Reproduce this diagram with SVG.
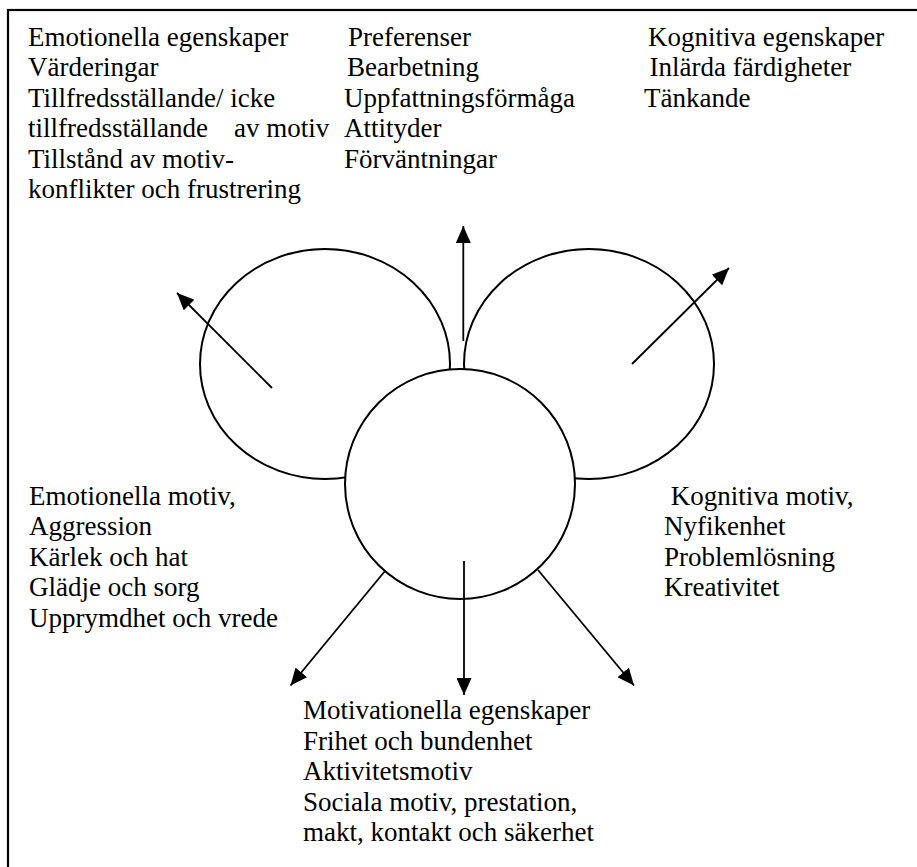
<svg xmlns="http://www.w3.org/2000/svg" width="917" height="867" viewBox="0 0 917 867">
  <style>
    text { font-family: "Liberation Serif", "Times New Roman", serif; font-size: 27px; fill: #000; }
    .shape { fill: #fff; stroke: #000; stroke-width: 2; }
    .arrow { fill: none; stroke: #000; stroke-width: 1.8; marker-end: url(#head); }
    .frame { fill: none; stroke: #000; stroke-width: 2.2; }
  </style>
  <defs>
    <marker id="head" markerUnits="userSpaceOnUse" markerWidth="17" markerHeight="15" viewBox="0 0 17 15" refX="17" refY="7.5" orient="auto">
      <path d="M0,0 L17,7.5 L0,15 z" fill="#000"/>
    </marker>
  </defs>

  <rect class="frame" x="8" y="10" width="930" height="880"/>

  <g id="node-emotionella-egenskaper">
    <text x="28" y="46">Emotionella egenskaper</text>
    <text x="28" y="76.4">Värderingar</text>
    <text x="28" y="106.8">Tillfredsställande/ icke</text>
    <text x="28" y="137.2" xml:space="preserve">tillfredsställande  <tspan x="234">av motiv</tspan></text>
    <text x="28" y="167.6">Tillstånd av motiv-</text>
    <text x="28" y="198">konflikter och frustrering</text>
  </g>

  <g id="node-preferenser">
    <text x="348" y="46">Preferenser</text>
    <text x="347" y="76.4">Bearbetning</text>
    <text x="344" y="106.8">Uppfattningsförmåga</text>
    <text x="344" y="137.2">Attityder</text>
    <text x="344" y="167.6">Förväntningar</text>
  </g>

  <g id="node-kognitiva-egenskaper">
    <text x="648" y="46">Kognitiva egenskaper</text>
    <text x="649.5" y="76.4">Inlärda färdigheter</text>
    <text x="644" y="106.8">Tänkande</text>
  </g>

  <g id="node-left-circle">
    <ellipse class="shape" cx="325" cy="364" rx="125" ry="115"/>
  </g>
  <g id="node-right-circle">
    <ellipse class="shape" cx="589" cy="364" rx="125" ry="115"/>
  </g>
  <g id="node-center-circle">
    <circle class="shape" cx="460" cy="484" r="115"/>
  </g>

  <g id="connectors">
    <line class="arrow" x1="463.3" y1="341" x2="463.3" y2="226"/>
    <line class="arrow" x1="272" y1="388" x2="177" y2="293"/>
    <line class="arrow" x1="632" y1="364" x2="729" y2="268"/>
    <line class="arrow" x1="464" y1="561" x2="464" y2="695"/>
    <line class="arrow" x1="385" y1="571" x2="290.5" y2="685.5"/>
    <line class="arrow" x1="538" y1="570" x2="634" y2="685.5"/>
  </g>

  <g id="node-emotionella-motiv">
    <text x="29" y="504.5">Emotionella motiv,</text>
    <text x="29" y="535">Aggression</text>
    <text x="29" y="565.5">Kärlek och hat</text>
    <text x="29" y="596">Glädje och sorg</text>
    <text x="29" y="626.5">Upprymdhet och vrede</text>
  </g>

  <g id="node-kognitiva-motiv">
    <text x="664" y="504.5" xml:space="preserve"> Kognitiva motiv,</text>
    <text x="664" y="535">Nyfikenhet</text>
    <text x="664" y="565.5">Problemlösning</text>
    <text x="664" y="596">Kreativitet</text>
  </g>

  <g id="node-motivationella-egenskaper">
    <text x="303" y="719">Motivationella egenskaper</text>
    <text x="303" y="749.6">Frihet och bundenhet</text>
    <text x="303" y="780.2">Aktivitetsmotiv</text>
    <text x="303" y="810.8">Sociala motiv, prestation,</text>
    <text x="303" y="841.4">makt, kontakt och säkerhet</text>
  </g>
</svg>
